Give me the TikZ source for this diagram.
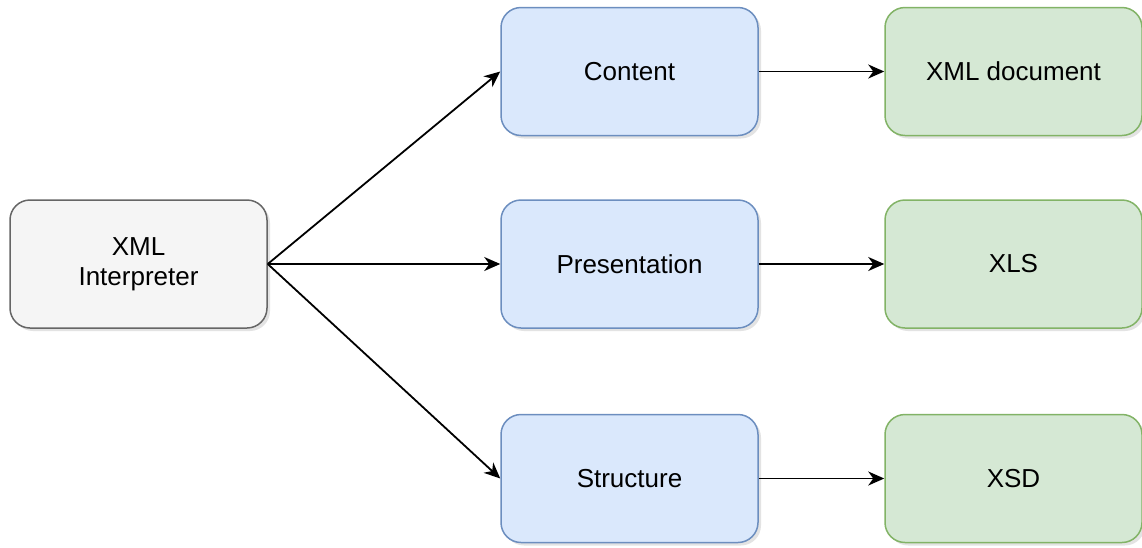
\documentclass[tikz,border=0pt]{standalone}
\usepackage{fontspec}
\setmainfont{Liberation Sans}
\usetikzlibrary{arrows.meta,shadows}
\definecolor{greyfill}{HTML}{F5F5F5}
\definecolor{greyline}{HTML}{666666}
\definecolor{bluefill}{HTML}{DAE8FC}
\definecolor{blueline}{HTML}{6C8EBF}
\definecolor{greenfill}{HTML}{D5E8D4}
\definecolor{greenline}{HTML}{82B366}
\begin{document}
\begin{tikzpicture}[x=0.5pt,y=-0.5pt,
  box/.style={draw, rounded corners=10pt, line width=0.75pt,
    minimum width=128.5pt, minimum height=64pt, inner sep=0pt,
    align=center, font=\fontsize{13}{15}\selectfont,
    drop shadow={shadow xshift=1.5pt, shadow yshift=-1.5pt, opacity=0.18, fill=black!60}},
  greybox/.style={box, fill=greyfill, draw=greyline},
  bluebox/.style={box, fill=bluefill, draw=blueline},
  greenbox/.style={box, fill=greenfill, draw=greenline},
  arr/.style={-{Stealth[length=8pt,width=7pt,inset=2.5pt]}, line width=0.9pt, black}]
\useasboundingbox (0,0) rectangle (1142,547);
\node[greybox] (interp) at (138.5,264) {XML\\Interpreter};
\node[bluebox] (content) at (629.5,71.5) {Content};
\node[bluebox] (present) at (629.5,264) {Presentation};
\node[bluebox] (struct) at (629.5,478.5) {Structure};
\node[greenbox] (xmldoc) at (1013.5,71.5) {XML document};
\node[greenbox] (xls) at (1013.5,264) {XLS};
\node[greenbox] (xsd) at (1013.5,478.5) {XSD};
\draw[arr] (interp.east) -- (content.west);
\draw[arr] (interp.east) -- (present.west);
\draw[arr] (interp.east) -- (struct.west);
\draw[arr] (content.east) -- (xmldoc.west);
\draw[arr] (present.east) -- (xls.west);
\draw[arr] (struct.east) -- (xsd.west);
\end{tikzpicture}
\end{document}
